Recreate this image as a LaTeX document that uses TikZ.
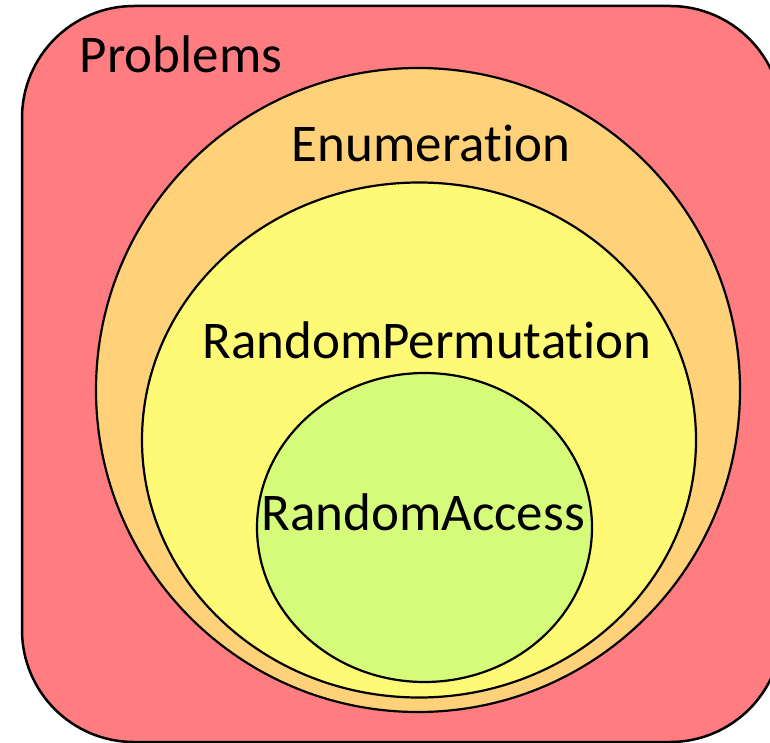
\documentclass[tikz,border=0pt]{standalone}
\usepackage{fontspec}
\setmainfont{Carlito}[Ligatures=NoCommon]
\usetikzlibrary{shapes.geometric}

\definecolor{probred}{RGB}{255,124,128}
\definecolor{enumorange}{RGB}{255,210,122}
\definecolor{permyellow}{RGB}{255,250,118}
\definecolor{accessgreen}{RGB}{214,250,122}

\begin{document}
\begin{tikzpicture}[x=1pt, y=-1pt]
\tikzset{ inner sep=0pt, outer sep=0pt,
  set/.style={draw=black, line width=2.2pt, ellipse},
  setname/.style={anchor=base, font=\fontsize{53}{60}\selectfont},
}

\useasboundingbox (0,0) rectangle (770,743);
\clip (0,0) rectangle (770,743);

%\draw [lightgray, dashed](0,0) grid[step=50] (770,743);

% outer box, runs off the right edge
\node [draw=black, line width=2.5pt, fill=probred, rounded corners=112pt,
       minimum width=760pt, minimum height=736pt] (P) at (402,374) {};

\node [set, fill=enumorange,  minimum width=644pt, minimum height=644pt] (E) at (418,390) {};
\node [set, fill=permyellow,  minimum width=554pt, minimum height=515pt] (R) at (419,440) {};
\node [set, fill=accessgreen, minimum width=335pt, minimum height=309pt] (A) at (424.5,527.5) {};

\node [setname] (Pname) at (181,73)  {Problems};
\node [setname] (Ename) at (431,162) {Enumeration};
\node [setname] (Rname) at (427,358) {RandomPermutation};
\node [setname] (Aname) at (423,530) {RandomAccess};

\end{tikzpicture}
\end{document}
